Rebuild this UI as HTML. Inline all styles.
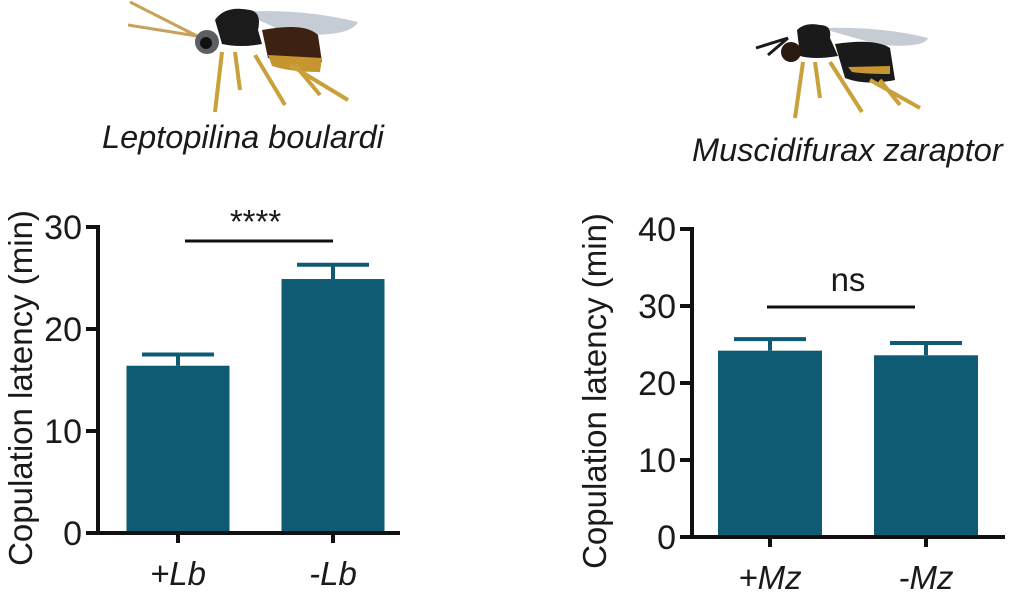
<!DOCTYPE html>
<html><head><meta charset="utf-8"><style>
html,body{margin:0;padding:0;background:#fff;}
svg{display:block;font-family:"Liberation Sans",Arial,sans-serif;}
</style></head><body>
<svg id="fig" width="1011" height="602" viewBox="0 0 1011 602">
<g>
 <path d="M197,36 L130,2 M197,36 L128,25" stroke="#c9a25a" stroke-width="3" fill="none"/>
 <path d="M240,12 Q300,8 358,22 Q350,38 290,34 Z" fill="#c5ccd3"/>
 <path d="M262,30 Q305,22 318,35 L322,62 Q295,66 268,58 Z" fill="#3d2213"/>
 <path d="M268,55 L322,58 L320,72 Q290,72 272,66 Z" fill="#c7952f"/>
 <path d="M215,20 Q225,5 250,10 Q262,12 258,30 L262,44 Q240,48 222,44 Z" fill="#1b1b1b"/>
 <circle cx="207" cy="42" r="12" fill="#5b5f63"/>
 <circle cx="206" cy="43" r="6" fill="#111"/>
 <path d="M222,52 L215,112 M235,52 L240,90 M255,55 L285,105 M290,65 L348,100 M295,65 L320,95" stroke="#c9a03a" stroke-width="4" fill="none"/>
</g>
<text x="102" y="148" font-size="32.5" font-style="italic" fill="#1a1a1a">Leptopilina boulardi</text>
<g>
 <path d="M788,38 L756,48 M788,38 L768,55" stroke="#1a1a1a" stroke-width="3" fill="none"/>
 <path d="M820,28 Q880,26 928,38 Q925,48 880,45 Z" fill="#c5ccd3"/>
 <path d="M835,44 Q875,38 890,48 L895,80 Q865,86 845,78 Z" fill="#1a1a1a"/>
 <path d="M848,67 L890,66 L890,74 Q865,74 852,72 Z" fill="#c7952f"/>
 <path d="M797,30 Q805,22 820,25 Q832,25 830,38 L838,56 Q815,60 800,56 Z" fill="#1a1a1a"/>
 <circle cx="791" cy="52" r="10" fill="#2a1a12"/>
 <path d="M803,62 L795,118 M815,62 L820,98 M830,62 L862,112 M870,80 L920,108 M880,80 L900,105" stroke="#c9a03a" stroke-width="4" fill="none"/>
</g>
<text x="692" y="161" font-size="32.5" font-style="italic" fill="#1a1a1a">Muscidifurax zaraptor</text>
<g id="left"></g>
<g id="right"></g>
</svg>
<script>
const leftCategories = ["+Lb", "-Lb"];
const leftMeans = [16.4, 24.9];
const leftErrors = [1.1, 1.4];
const leftTicks = [0, 10, 20, 30];
const leftSig = "****";
const rightCategories = ["+Mz", "-Mz"];
const rightMeans = [24.2, 23.6];
const rightErrors = [1.5, 1.6];
const rightTicks = [0, 10, 20, 30, 40];
const rightSig = "ns";

const NS = "http://www.w3.org/2000/svg";
function mk(parent, tag, attrs, text){
  const e = document.createElementNS(NS, tag);
  for (const k in attrs) e.setAttribute(k, attrs[k]);
  if (text !== undefined) e.textContent = text;
  parent.appendChild(e);
  return e;
}
function drawChart(g, cfg, cats, means, errs, ticks, sig){
  const yMax = ticks[ticks.length-1];
  const y = v => cfg.y0 - (v / yMax) * (cfg.y0 - cfg.yTop);
  const xc = i => cfg.c0 + i * cfg.gap;
  const barW = cfg.barW;
  const teal = "#0f5b73";
  means.forEach((m, i) => {
    const cx = xc(i);
    const b = mk(g, "rect", {x: cx - barW/2, y: y(m), width: barW, height: y(0) - y(m), fill: teal});
    
    
    const eb = mk(g, "path", {d: `M${cx},${y(m)} V${y(m + errs[i])} M${cx - 36},${y(m + errs[i])} H${cx + 36}`, stroke: teal, "stroke-width": 4, fill: "none"});
    
    
    const tk = mk(g, "line", {x1: cx, x2: cx, y1: cfg.y0, y2: cfg.y0 + 10, stroke: "#111", "stroke-width": 4});
    
    
    const lb = mk(g, "text", {x: cx, y: cfg.y0 + 52, "font-size": 33, "font-style": "italic", "text-anchor": "middle", fill: "#1a1a1a"}, cats[i]);
    
    
  });
  const ya = mk(g, "line", {x1: cfg.ax, x2: cfg.ax, y1: cfg.yTop - 2, y2: cfg.y0 + 2, stroke: "#111", "stroke-width": 4});
  
  
  const xa = mk(g, "line", {x1: cfg.ax - 12, x2: cfg.xEnd, y1: cfg.y0, y2: cfg.y0, stroke: "#111", "stroke-width": 4});
  
  
  ticks.forEach(t => {
    const tl = mk(g, "line", {x1: cfg.ax - 12, x2: cfg.ax, y1: y(t), y2: y(t), stroke: "#111", "stroke-width": 4});
    
    
    const tt = mk(g, "text", {x: cfg.ax - 16, y: y(t) + 12, "font-size": 34, "text-anchor": "end", fill: "#1a1a1a"}, String(t));
    
    
  });
  const yt = mk(g, "text", {x: 0, y: 0, "font-size": 33, "text-anchor": "middle", fill: "#1a1a1a", transform: `translate(${cfg.titleX},${(cfg.y0 + cfg.yTop)/2 + 8}) rotate(-90)`}, "Copulation latency (min)");
  
  
  const sl = mk(g, "line", {x1: xc(0) + cfg.sigL, x2: xc(1) + cfg.sigR, y1: cfg.sigY, y2: cfg.sigY, stroke: "#111", "stroke-width": 3});
  
  
  const st = mk(g, "text", {x: (xc(0) + xc(1)) / 2, y: cfg.sigY - cfg.sigText, "font-size": 33, "text-anchor": "middle", fill: "#1a1a1a"}, sig);
  
  
}
drawChart(document.getElementById('left'),
  {ax: 98, xEnd: 400, y0: 533, yTop: 227, c0: 178, gap: 155, barW: 103, titleX: 32, sigY: 241, sigL: 7, sigR: 0, sigText: 8},
  leftCategories, leftMeans, leftErrors, leftTicks, leftSig);
drawChart(document.getElementById('right'),
  {ax: 692, xEnd: 1005, y0: 537, yTop: 229, c0: 770, gap: 156, barW: 104, titleX: 606, sigY: 307, sigL: -3, sigR: -11, sigText: 16},
  rightCategories, rightMeans, rightErrors, rightTicks, rightSig);
</script>
</body></html>
